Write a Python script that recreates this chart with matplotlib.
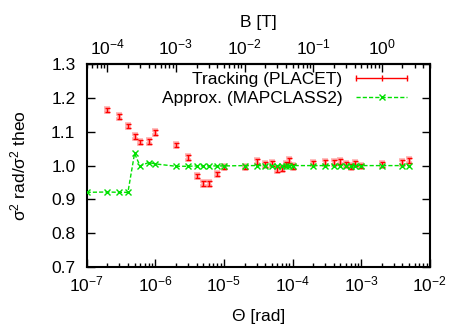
import numpy as np
import matplotlib
matplotlib.use("Agg")
import matplotlib.pyplot as plt
from matplotlib.ticker import (LogLocator, FixedLocator, LogFormatterSciNotation,
                               MultipleLocator, FormatStrFormatter, NullFormatter)
from matplotlib.legend_handler import HandlerLine2D
from matplotlib.lines import Line2D

plt.rcParams['font.family'] = ['Liberation Sans', 'DejaVu Sans']
plt.rcParams['mathtext.fontset'] = 'custom'
plt.rcParams['mathtext.rm'] = 'Liberation Sans'
plt.rcParams['mathtext.it'] = 'Liberation Sans'
plt.rcParams['mathtext.default'] = 'regular'

# tracking (PLACET) results
theta_track = [2e-7, 3e-7, 4e-7, 5e-7, 6e-7, 8e-7, 1e-6, 2e-6, 3e-6, 4e-6,
               5e-6, 6e-6, 8e-6, 1e-5, 2e-5, 3e-5, 4e-5, 5e-5, 6e-5, 7e-5,
               8e-5, 9e-5, 1e-4, 2e-4, 3e-4, 4e-4, 5e-4, 6e-4, 7e-4, 8e-4,
               1e-3, 2e-3, 4e-3, 5e-3]
ratio_track = [1.164, 1.144, 1.117, 1.085, 1.070, 1.072, 1.097, 1.061, 1.024, 0.969,
               0.947, 0.947, 0.975, 0.996, 0.996, 1.013, 1.003, 1.006, 0.989, 0.992,
               1.004, 1.014, 0.998, 1.008, 1.010, 1.010, 1.013, 1.004, 0.998, 1.006,
               0.999, 1.004, 1.009, 1.016]
err_track = [0.007] * len(theta_track)

# approximation (MAPCLASS2)
theta_approx = [1e-7] + theta_track
ratio_approx = [0.921, 0.922, 0.921, 0.921, 1.036, 0.999, 1.009, 1.005, 0.998, 0.998,
                0.999, 0.999, 0.999, 0.999, 0.999, 1.0, 1.0, 1.0, 1.0, 1.0,
                1.0, 1.0, 1.0, 1.0, 1.0, 1.0, 1.0, 1.0, 1.0, 1.0,
                1.0, 1.0, 1.0, 1.0, 1.0]

B_PER_THETA = 500.0  # B [T] = 500 * Theta [rad]
theta_ticks = [1e-7, 1e-6, 1e-5, 1e-4, 1e-3, 1e-2]
b_ticks = [1e-4, 1e-3, 1e-2, 1e-1, 1e0]

red = '#ff0000'
green = '#00e000'
fs = 12.5

fig = plt.figure(figsize=(4.51, 3.25), dpi=100)
ax = fig.add_axes([0.192, 0.178, 0.761, 0.625])

# soft halo under the error bars, like the antialiased original
ax.errorbar(theta_track, ratio_track, yerr=err_track, fmt='none', ecolor='#ffb0b0',
            elinewidth=2.6, capsize=2.2, capthick=2.6, zorder=2)
ax.errorbar(theta_track, ratio_track, yerr=err_track, fmt='none', ecolor=red,
            elinewidth=1.0, capsize=1.8, capthick=1.0, zorder=3)
ax.plot(theta_approx, ratio_approx, color=green, linestyle=(0, (3, 1.5)), linewidth=1.0,
        marker='x', markersize=4, markeredgewidth=1.0, zorder=4)

ax.set_xscale('log')
ax.set_xlim(1e-7, 1e-2)
ax.set_ylim(0.7, 1.3)
ax.yaxis.set_major_locator(MultipleLocator(0.1))
ax.yaxis.set_major_formatter(FormatStrFormatter('%.1f'))
ax.xaxis.set_major_locator(FixedLocator(theta_ticks))
ax.xaxis.set_major_formatter(LogFormatterSciNotation())
ax.xaxis.set_minor_locator(LogLocator(base=10, subs=np.arange(2, 10), numticks=20))
ax.xaxis.set_minor_formatter(NullFormatter())

ax.tick_params(which='both', direction='in', right=True, top=False, labelsize=fs, width=1.0)
ax.tick_params(which='major', length=6)
ax.tick_params(which='minor', length=3)
ax.tick_params(axis='x', which='major', pad=5)
ax.tick_params(axis='y', which='major', pad=8)
for s in ax.spines.values():
    s.set_linewidth(1.5)

ax.set_xlabel('Θ [rad]', fontsize=fs, labelpad=11)
ax.set_ylabel('σ$^2$ rad/σ$^2$ theo', fontsize=fs, labelpad=16)

top = ax.secondary_xaxis('top', functions=(lambda t: t * B_PER_THETA, lambda b: b / B_PER_THETA))
top.set_xscale('log')
top.xaxis.set_major_locator(FixedLocator(b_ticks))
top.xaxis.set_major_formatter(LogFormatterSciNotation())
top.xaxis.set_minor_locator(LogLocator(base=10, subs=np.arange(2, 10), numticks=20))
top.xaxis.set_minor_formatter(NullFormatter())
top.tick_params(which='both', direction='in', labelsize=fs, width=1.0)
top.tick_params(which='major', length=6, pad=5)
top.tick_params(which='minor', length=3)
top.spines['top'].set_linewidth(1.5)
top.set_xlabel('B [T]', fontsize=fs, labelpad=7)

h_track = Line2D([], [], color=red, linewidth=1.0, marker='|', markersize=5, markeredgewidth=1.0)
h_approx = Line2D([], [], color=green, linestyle=(0, (3, 1.5)), linewidth=1.0,
                  marker='x', markersize=4, markeredgewidth=1.0)
ax.legend([h_track, h_approx], ['Tracking (PLACET)', 'Approx. (MAPCLASS2)'],
          loc='upper right', bbox_to_anchor=(0.933, 0.96), frameon=False,
          markerfirst=False, fontsize=fs,
          handlelength=2.9, handletextpad=0.8, labelspacing=0.22,
          borderaxespad=0.0, borderpad=0.0,
          handler_map={h_track: HandlerLine2D(numpoints=3, marker_pad=0),
                       h_approx: HandlerLine2D(numpoints=1)})

fig.savefig('out.png', dpi=100)
